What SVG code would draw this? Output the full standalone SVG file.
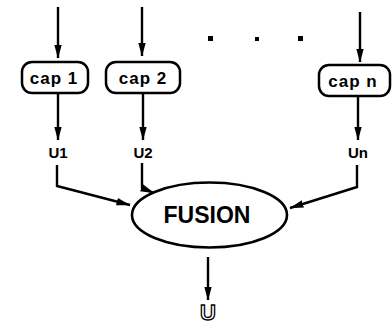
<svg xmlns="http://www.w3.org/2000/svg" width="392" height="325" viewBox="0 0 392 325">
<defs>
<marker id="ah" markerUnits="userSpaceOnUse" markerWidth="14" markerHeight="10" viewBox="0 0 14 10" refX="13.5" refY="5" orient="auto">
<path d="M0,1.2 L14,5 L0,8.8 Z" fill="#000"/>
</marker>
<style>
.cap{fill:#fff;stroke:#000;stroke-width:2.5}
.capt{font-family:"Liberation Sans",Arial,sans-serif;font-weight:bold;font-size:17px;letter-spacing:1px;text-anchor:middle;fill:#000}
.lab{font-family:"Liberation Sans",Arial,sans-serif;font-weight:bold;font-size:15px;text-anchor:middle;fill:#000}
.ln{fill:none;stroke:#000;stroke-width:2.4;stroke-linejoin:miter}
</style>
</defs>
<rect width="392" height="325" fill="#fff"/>
<g id="connectors">
<line class="ln" x1="58" y1="7" x2="58" y2="58" marker-end="url(#ah)"/>
<line class="ln" x1="142" y1="7" x2="142" y2="56" marker-end="url(#ah)"/>
<line class="ln" x1="360" y1="12" x2="360" y2="62" marker-end="url(#ah)"/>
<line class="ln" x1="58" y1="93" x2="58" y2="140" marker-end="url(#ah)"/>
<line class="ln" x1="143" y1="93" x2="143" y2="140" marker-end="url(#ah)"/>
<line class="ln" x1="358" y1="96" x2="358" y2="140" marker-end="url(#ah)"/>
<polyline class="ln" points="57,165 57,186 130,205" marker-end="url(#ah)"/>
<polyline class="ln" points="142,163 142,188 154,193" marker-end="url(#ah)"/>
<polyline class="ln" points="357,165 357,187 290,208" marker-end="url(#ah)"/>
<line class="ln" x1="208" y1="257" x2="208" y2="300" marker-end="url(#ah)"/>
</g>
<g id="cap1">
<rect class="cap" x="22" y="62" width="66" height="31" rx="10"/>
<text class="capt" x="54" y="84">cap 1</text>
</g>
<g id="cap2">
<rect class="cap" x="106" y="62" width="74" height="31" rx="10"/>
<text class="capt" x="143" y="84">cap 2</text>
</g>
<g id="capn">
<rect class="cap" x="319" y="65" width="71" height="31" rx="10"/>
<text class="capt" x="353" y="87">cap n</text>
</g>
<g id="dots">
<rect x="208" y="36" width="5" height="5" fill="#000"/>
<rect x="255" y="37" width="4" height="4" fill="#000"/>
<rect x="298" y="36" width="5" height="5" fill="#000"/>
</g>
<g id="u1"><text class="lab" x="58" y="158">U1</text></g>
<g id="u2"><text class="lab" x="143" y="158">U2</text></g>
<g id="un"><text class="lab" x="358" y="158">Un</text></g>
<g id="fusion">
<ellipse cx="209.5" cy="215" rx="77.5" ry="32.5" fill="#fff" stroke="#000" stroke-width="2.6"/>
<text x="207" y="223" font-family="Liberation Sans,Arial,sans-serif" font-weight="bold" font-size="23" text-anchor="middle" fill="#000">FUSION</text>
</g>
<g id="u">
<text x="208" y="320" font-family="Liberation Sans,Arial,sans-serif" font-weight="bold" font-size="22" text-anchor="middle" fill="#fff" stroke="#000" stroke-width="1.3">U</text>
</g>
</svg>
